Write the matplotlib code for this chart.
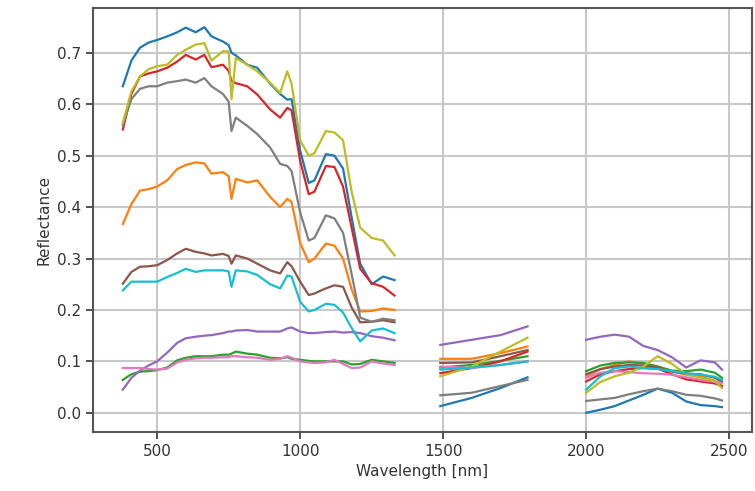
import numpy as np
import matplotlib
matplotlib.use("Agg")
import matplotlib.pyplot as plt

# wavelengths of the three spectral segments (water bands removed)
wl_vnir = [380, 410, 440, 470, 500, 535, 570, 600, 635, 665, 690, 730, 750, 760, 775,
           815, 850, 895, 930, 955, 970, 1000, 1030, 1050, 1090, 1120, 1150, 1180,
           1210, 1250, 1290, 1330]
wl_swir1 = [1490, 1600, 1700, 1795]
wl_swir2 = [2000, 2050, 2100, 2150, 2200, 2250, 2300, 2350, 2400, 2450, 2475]

# reflectance of each sample, segment by segment
s0 = [0.635, 0.685, 0.71, 0.72, 0.725, 0.732, 0.74, 0.749, 0.74, 0.75, 0.732, 0.722, 0.715, 0.70, 0.695,
      0.677, 0.671, 0.64, 0.62, 0.609, 0.61, 0.51, 0.447, 0.452, 0.503, 0.50, 0.475, 0.38,
      0.29, 0.25, 0.265, 0.258,
      0.013, 0.029, 0.048, 0.069,
      0.0, 0.006, 0.013, 0.024, 0.035, 0.047, 0.039, 0.022, 0.015, 0.013, 0.011]
s1 = [0.367, 0.406, 0.432, 0.435, 0.44, 0.452, 0.474, 0.482, 0.487, 0.485, 0.465, 0.468, 0.46, 0.416, 0.455,
      0.448, 0.452, 0.42, 0.40, 0.416, 0.41, 0.33, 0.293, 0.30, 0.329, 0.325, 0.30, 0.24,
      0.197, 0.198, 0.203, 0.20,
      0.105, 0.105, 0.116, 0.129,
      0.071, 0.085, 0.093, 0.10, 0.095, 0.09, 0.081, 0.074, 0.071, 0.062, 0.052]
s2 = [0.064, 0.075, 0.08, 0.081, 0.083, 0.088, 0.102, 0.107, 0.11, 0.11, 0.11, 0.113, 0.113, 0.115, 0.119,
      0.115, 0.113, 0.107, 0.106, 0.108, 0.105, 0.103, 0.101, 0.10, 0.10, 0.10, 0.10, 0.094,
      0.095, 0.103, 0.10, 0.097,
      0.088, 0.093, 0.101, 0.11,
      0.081, 0.092, 0.097, 0.098, 0.097, 0.09, 0.082, 0.081, 0.084, 0.078, 0.068]
s3 = [0.551, 0.62, 0.654, 0.66, 0.664, 0.671, 0.683, 0.696, 0.687, 0.696, 0.672, 0.677, 0.665, 0.645, 0.641,
      0.635, 0.619, 0.59, 0.574, 0.593, 0.588, 0.49, 0.425, 0.43, 0.48, 0.478, 0.44, 0.36,
      0.28, 0.252, 0.245, 0.228,
      0.077, 0.087, 0.10, 0.119,
      0.061, 0.075, 0.081, 0.085, 0.087, 0.086, 0.075, 0.065, 0.061, 0.057, 0.052]
s4 = [0.045, 0.068, 0.082, 0.092, 0.10, 0.117, 0.136, 0.145, 0.148, 0.15, 0.151, 0.155, 0.158, 0.158, 0.16,
      0.161, 0.158, 0.158, 0.158, 0.164, 0.166, 0.158, 0.155, 0.155, 0.157, 0.158, 0.156, 0.157,
      0.155, 0.149, 0.146, 0.141,
      0.132, 0.142, 0.151, 0.168,
      0.142, 0.148, 0.152, 0.148, 0.13, 0.122, 0.108, 0.088, 0.102, 0.098, 0.084]
s5 = [0.251, 0.274, 0.284, 0.285, 0.287, 0.297, 0.31, 0.319, 0.313, 0.31, 0.306, 0.309, 0.305, 0.29, 0.306,
      0.30, 0.29, 0.277, 0.271, 0.293, 0.285, 0.255, 0.229, 0.232, 0.242, 0.248, 0.245, 0.205,
      0.176, 0.177, 0.18, 0.176,
      0.097, 0.098, 0.11, 0.122,
      0.075, 0.085, 0.09, 0.093, 0.092, 0.088, 0.08, 0.076, 0.075, 0.068, 0.06]
s6 = [0.087, 0.087, 0.087, 0.085, 0.084, 0.086, 0.098, 0.103, 0.106, 0.107, 0.107, 0.108, 0.108, 0.11, 0.11,
      0.108, 0.107, 0.103, 0.105, 0.11, 0.107, 0.10, 0.098, 0.097, 0.098, 0.103, 0.095, 0.087,
      0.088, 0.10, 0.096, 0.093,
      0.09, 0.087, 0.093, 0.10,
      0.068, 0.078, 0.081, 0.079, 0.077, 0.076, 0.074, 0.069, 0.064, 0.06, 0.058]
s7 = [0.56, 0.61, 0.63, 0.635, 0.635, 0.642, 0.645, 0.648, 0.642, 0.651, 0.635, 0.62, 0.605, 0.548, 0.574,
      0.558, 0.542, 0.516, 0.484, 0.48, 0.47, 0.39, 0.335, 0.34, 0.384, 0.378, 0.35, 0.27,
      0.185, 0.177, 0.183, 0.18,
      0.034, 0.039, 0.052, 0.064,
      0.023, 0.026, 0.029, 0.036, 0.042, 0.047, 0.042, 0.035, 0.033, 0.028, 0.024]
s8 = [0.564, 0.625, 0.654, 0.668, 0.674, 0.677, 0.696, 0.706, 0.716, 0.719, 0.685, 0.703, 0.703, 0.61, 0.69,
      0.677, 0.664, 0.642, 0.622, 0.664, 0.64, 0.53, 0.50, 0.505, 0.548, 0.545, 0.53, 0.43,
      0.36, 0.34, 0.335, 0.306,
      0.071, 0.09, 0.119, 0.146,
      0.039, 0.06, 0.071, 0.078, 0.09, 0.11, 0.095, 0.075, 0.068, 0.062, 0.048]
s9 = [0.238, 0.255, 0.255, 0.255, 0.255, 0.264, 0.272, 0.28, 0.274, 0.277, 0.277, 0.277, 0.275, 0.245, 0.277,
      0.275, 0.268, 0.25, 0.242, 0.267, 0.265, 0.216, 0.197, 0.20, 0.212, 0.21, 0.195, 0.165,
      0.139, 0.16, 0.164, 0.155,
      0.084, 0.088, 0.093, 0.10,
      0.045, 0.071, 0.087, 0.09, 0.087, 0.085, 0.081, 0.077, 0.074, 0.07, 0.064]
samples = [s0, s1, s2, s3, s4, s5, s6, s7, s8, s9]

# put a NaN between segments so the lines break at the water bands
n1, n2 = len(wl_vnir), len(wl_swir1)
wl = np.array(wl_vnir + [np.nan] + wl_swir1 + [np.nan] + wl_swir2, dtype=float)

def with_gaps(vals):
    v = list(vals)
    return np.array(v[:n1] + [np.nan] + v[n1:n1 + n2] + [np.nan] + v[n1 + n2:], dtype=float)

plt.rcParams['font.size'] = 11
fig = plt.figure(figsize=(7.55, 4.91), dpi=100)
ax = fig.add_axes([0.123, 0.12, 0.873, 0.864])
for s in samples:
    ax.plot(wl, with_gaps(s), linewidth=1.6)

ax.set_xlabel("Wavelength [nm]", color="#333333")
ax.set_ylabel("Reflectance", color="#333333")
ax.set_xticks([500, 1000, 1500, 2000, 2500])
ax.set_yticks([0.0, 0.1, 0.2, 0.3, 0.4, 0.5, 0.6, 0.7])
ax.tick_params(colors="#444444", labelcolor="#333333", width=1.3, length=5)
ax.grid(True, color="#c8c8c8", linewidth=1.5)
ax.set_axisbelow(True)
for sp in ax.spines.values():
    sp.set_color("#555555")
    sp.set_linewidth(1.5)

fig.savefig("out.png", dpi=100)
